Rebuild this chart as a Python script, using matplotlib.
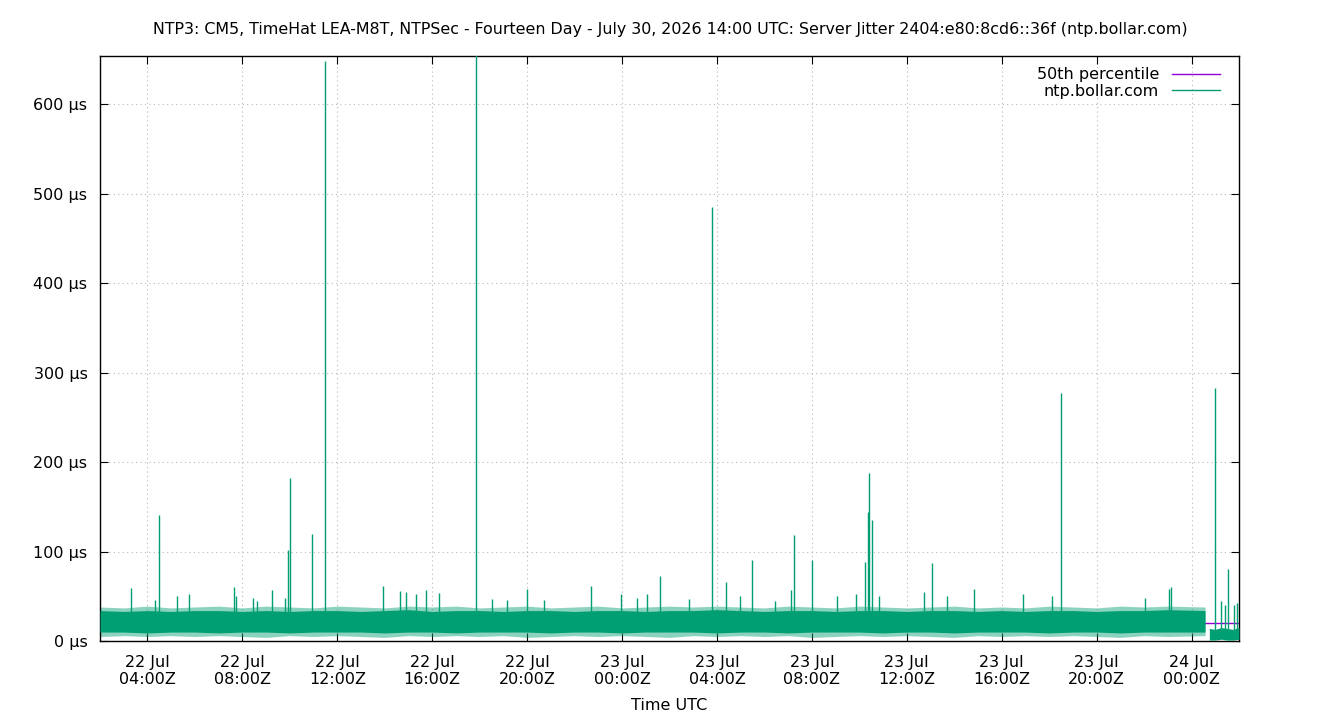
import numpy as np
import matplotlib.pyplot as plt
import matplotlib.dates as mdates

# --- data (hours since 22 Jul 2026 00:00 UTC, values in µs) ---
t0 = np.datetime64("2026-07-22T00:00")

# hourly envelope of the dense jitter band, 02:00 22 Jul .. 00:00 24 Jul
band_hours = np.arange(2, 49)
band_core_lo = [10, 10, 9, 10, 10, 9, 10, 10, 9, 10, 10, 10, 9, 10, 10, 9, 10, 10, 10, 9,
                10, 10, 9, 10, 10, 10, 9, 10, 10, 9, 10, 10, 10, 9, 10, 10, 9, 10, 10, 10,
                9, 10, 10, 9, 10, 10, 10]
band_core_hi = [34, 33, 34, 33, 34, 34, 33, 34, 33, 34, 34, 33, 34, 35, 33, 34, 34, 33, 34, 34,
                33, 34, 34, 33, 34, 34, 35, 34, 33, 34, 34, 33, 34, 34, 33, 34, 34, 33, 34, 33,
                34, 34, 33, 34, 34, 35, 34]
band_outer_lo = [5, 6, 5, 6, 5, 6, 5, 4, 6, 5, 6, 5, 4, 6, 5, 6, 5, 6, 4, 5,
                 6, 5, 6, 5, 4, 6, 5, 6, 5, 6, 4, 5, 6, 5, 6, 5, 4, 6, 5, 6,
                 5, 6, 5, 4, 6, 5, 6]
band_outer_hi = [38, 37, 39, 37, 38, 39, 37, 39, 38, 37, 39, 38, 37, 39, 38, 39, 37, 38, 39, 37,
                 38, 39, 37, 38, 39, 38, 39, 38, 37, 39, 38, 37, 39, 38, 37, 38, 39, 37, 38, 37,
                 39, 38, 37, 39, 38, 39, 38]
band_end = 48.57

# sparse regime at the right edge
tail_hours = [48.75, 49.0, 49.25, 49.5, 49.75, 50.0]
tail_lo = [1, 1, 2, 1, 1, 2]
tail_hi = [14, 13, 15, 14, 13, 15]

# spikes above the band
spike_hours = [3.31, 4.32, 4.49, 5.25, 5.75, 7.65, 7.73, 8.45, 8.62, 9.25, 9.80, 9.92, 10.01,
               10.93, 11.48, 13.93, 14.64, 14.90, 15.32, 15.74, 16.29, 17.84, 18.52, 19.15,
               20.00, 20.71, 22.69, 23.96, 24.63, 25.05, 25.60, 26.82, 27.79, 28.38, 28.97,
               29.48, 30.45, 31.12, 31.25, 32.00, 33.06, 33.86, 34.24, 34.36, 34.41, 34.53,
               34.83, 36.72, 37.06, 37.69, 38.83, 40.90, 42.12, 42.50, 46.04, 47.05, 47.13,
               48.99, 49.24, 49.40, 49.53, 49.78, 49.90]
spike_values = [59, 46, 141, 50, 52, 60, 50, 48, 45, 57, 48, 102, 182,
                120, 648, 62, 56, 55, 52, 57, 54, 900, 47, 46,
                58, 46, 62, 52, 48, 52, 73, 47, 485, 66, 50,
                91, 45, 57, 118, 90, 50, 52, 88, 144, 188, 135,
                50, 55, 87, 50, 58, 53, 50, 277, 48, 58, 60,
                283, 45, 40, 81, 40, 42]

median_value = 20.4

tick_hours = np.arange(4, 49, 4)


def to_time(hours):
    return t0 + (np.asarray(hours, dtype=float) * 3600).astype("timedelta64[s]")


green = "#009e73"
purple = "#9400d3"

fig = plt.figure(figsize=(13.4, 7.2), dpi=100)
ax = fig.add_axes([100 / 1340, 1 - 641 / 720, 1139 / 1340, 585 / 720])

xlo, xhi = to_time(2), to_time(50)
ax.plot([xlo, xhi], [median_value, median_value], color=purple, lw=1, zorder=1,
        label="50th percentile")

bt = to_time(np.append(band_hours[:-1], band_end))
ax.fill_between(bt, band_outer_lo, band_outer_hi, color=green, alpha=0.45, lw=0, zorder=2)
ax.fill_between(bt, band_core_lo, band_core_hi, color=green, lw=0, zorder=3)

tt = to_time(tail_hours)
ax.fill_between(tt, tail_lo, tail_hi, color=green, lw=0, zorder=3)

spike_base = [30 if h < band_end else 10 for h in spike_hours]
ax.vlines(to_time(spike_hours), spike_base, spike_values, color=green, lw=1, zorder=3)
ax.plot([], [], color=green, lw=1, label="ntp.bollar.com")

ax.set_xlim(xlo, xhi)
ax.set_ylim(0, 654)
ax.set_yticks(np.arange(0, 700, 100))
ax.set_yticklabels([f"{v} µs" for v in range(0, 700, 100)])
ax.set_xticks(to_time(tick_hours))
ax.xaxis.set_major_formatter(mdates.DateFormatter("%d %b\n%H:%MZ"))

ax.grid(True, color="#b8b8b8", linestyle=(0, (1, 3)), lw=0.8)
ax.tick_params(direction="in", top=True, right=True, length=6, labelsize=11.5)
ax.tick_params(axis="x", pad=10)
ax.tick_params(axis="y", pad=9)
for s in ax.spines.values():
    s.set_linewidth(1)

ax.set_xlabel("Time UTC", fontsize=11.5, labelpad=8)
fig.suptitle("NTP3: CM5, TimeHat LEA-M8T, NTPSec - Fourteen Day - July 30, 2026 14:00 UTC: "
             "Server Jitter 2404:e80:8cd6::36f (ntp.bollar.com)", fontsize=11.4, y=0.97)

handles, labels = ax.get_legend_handles_labels()
ax.legend(handles, labels, loc="upper right", bbox_to_anchor=(0.993, 1.0), frameon=False,
          markerfirst=False, fontsize=11.5, handlelength=3.0, borderaxespad=0.3,
          labelspacing=0.1)

fig.savefig("out.png", dpi=100)
